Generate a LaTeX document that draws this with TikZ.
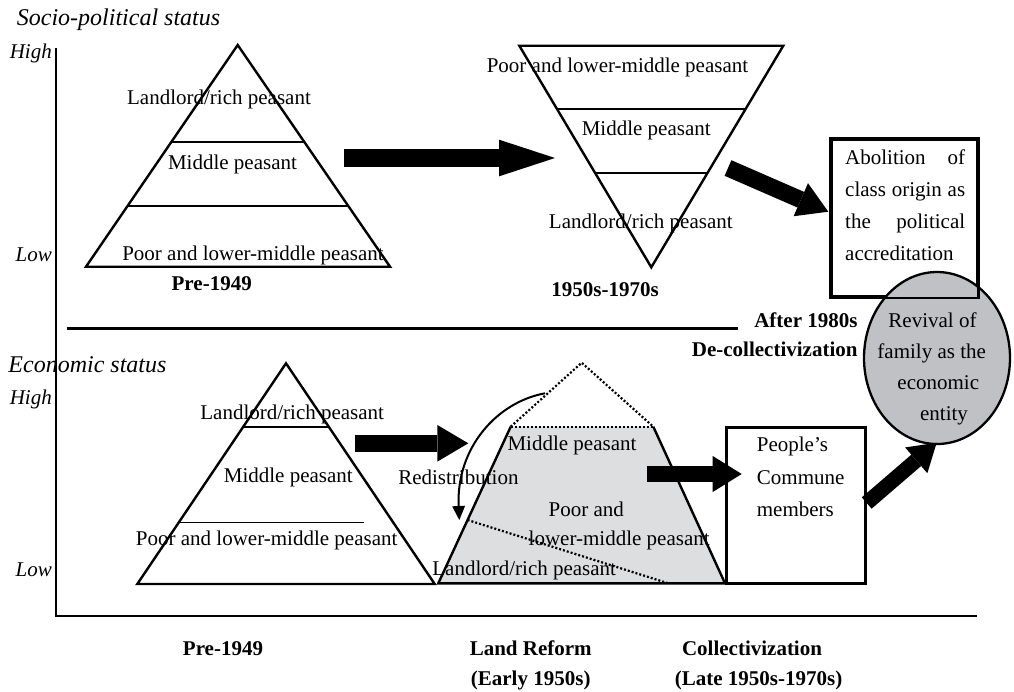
\documentclass[tikz,border=0pt]{standalone}
\usepackage{fontspec}
\setmainfont{Liberation Serif}
\usetikzlibrary{arrows.meta,shapes.geometric}
\definecolor{trapgray}{RGB}{221,222,224}
\definecolor{ellgray}{RGB}{192,193,197}
\newcommand\fsz{\fontsize{21}{32}\selectfont}
\newcommand\fbig{\fontsize{24}{30}\selectfont}
\tikzset{
  lbl/.style={inner sep=0pt, font=\fsz, anchor=base},
  bold/.style={lbl, font=\fsz\bfseries},
  ital/.style={lbl, font=\fsz\itshape},
  outl/.style={line width=2.4pt, line join=miter},
  inl/.style={line width=2pt},
  dotl/.style={line width=2.2pt, dash pattern=on 2pt off 2pt},
  blockarrow/.style n args={3}{line width=#1, -{Triangle[length=#2, width=#3, line width=0pt]}},
}
\begin{document}
\begin{tikzpicture}[x=1pt,y=-1pt]
\useasboundingbox (0,0) rectangle (1014,691);

% ---------- axes and separator
\coordinate (axtop) at (56,48);
\coordinate (axorig) at (56,616);
\coordinate (axend) at (977,616);
\draw[line width=2.8pt, line join=miter] (axtop) -- (axorig) -- (axend);
\coordinate (sepL) at (66.7,328);
\coordinate (sepR) at (738.3,328);
\draw[line width=3pt] (sepL) -- (sepR);

% ---------- labels on axis
\node[ital, font=\fbig\itshape, anchor=base west] (tSP) at (16.7,25) {Socio-political status};
\node[ital, anchor=base east] (tHigh1) at (52,58.5) {High};
\node[ital, anchor=base east] (tLow1) at (52,261.5) {Low};
\node[ital, font=\fbig\itshape, anchor=base west] (tEC) at (8.3,372) {Economic status};
\node[ital, anchor=base east] (tHigh2) at (52,404) {High};
\node[ital, anchor=base east] (tLow2) at (52,576) {Low};

% ---------- top pyramid (pre-1949)
\draw[outl] (237.7,45) -- (86,266.7) -- (390,266.7) -- cycle;
\draw[inl] (171.4,141.7) -- (304,141.7);
\draw[inl] (127.7,206) -- (347.7,206);
\node[lbl] (pA1) at (219,104.4) {Landlord/rich peasant};
\node[lbl] (pA2) at (232.5,169.2) {Middle peasant};
\node[lbl] (pA3) at (253,260.7) {Poor and lower-middle peasant};
\node[bold] (yA) at (211.7,290) {Pre-1949};

% ---------- inverted pyramid (1950s-1970s)
\draw[outl] (519.3,45.7) -- (783.3,45.7) -- (651.3,267.3) -- cycle;
\draw[inl] (557.3,109) -- (745.3,109);
\draw[inl] (595.4,172.7) -- (707.2,172.7);
\node[lbl] (pB1) at (617.5,72) {Poor and lower-middle peasant};
\node[lbl] (pB2) at (646.2,135.5) {Middle peasant};
\node[lbl] (pB3) at (640.8,228.8) {Landlord/rich peasant};
\node[bold] (yB) at (605,296) {1950s-1970s};

% ---------- abolition box
\node[draw, line width=2.5pt, minimum width=145.6pt, minimum height=157.4pt, inner sep=0pt] (abol) at (904.5,218) {};
\node[lbl, anchor=base west] (ab1) at (845,164.5) {\hbox to 120pt{Abolition\hfill of}};
\node[lbl, anchor=base west] (ab2) at (845,196.5) {\hbox to 120pt{class\hfill origin\hfill as}};
\node[lbl, anchor=base west] (ab3) at (845,228.5) {\hbox to 120pt{the\hfill political}};
\node[lbl, anchor=base west] (ab4) at (845,260.5) {accreditation};

% ---------- after 1980s
\node[bold, anchor=base east] (after) at (857.7,327) {After 1980s};
\node[bold, anchor=base east] (decol) at (857.7,356.5) {De-collectivization};

% ---------- ellipse
\node[ellipse, draw, fill=ellgray, line width=2.3pt, minimum width=146pt, minimum height=172pt, inner sep=0pt] (fam) at (937,358) {};
\draw[line width=2.5pt] (abol.north west) rectangle (abol.south east);
\node[lbl] (fm1) at (932.5,327.5) {Revival of};
\node[lbl] (fm2) at (931.7,358.5) {family as the};
\node[lbl] (fm3) at (938.3,389.5) {economic};
\node[lbl] (fm4) at (944,420.5) {entity};

% ---------- bottom pyramid (pre-1949)
\draw[outl] (286,363.3) -- (137.3,584) -- (434.7,584) -- cycle;
\draw[inl] (243.3,426.7) -- (328.7,426.7);
\draw[line width=1.5pt] (179.8,522.3) -- (364.3,522.3);
\node[lbl] (pD1) at (292.2,419.5) {Landlord/rich peasant};
\node[lbl] (pD2) at (288.3,482) {Middle peasant};
\node[lbl] (pD3) at (266.7,545.5) {Poor and lower-middle peasant};

% ---------- land reform trapezoid
\fill[trapgray] (438.3,583.3) -- (510.7,426.7) -- (653.3,426.7) -- (725,583.3) -- cycle;
\draw[outl] (510.7,426.7) -- (438.3,583.3) -- (725,583.3) -- (653.3,426.7);
\draw[dotl] (510.7,426.7) -- (581.7,362.7) -- (653.3,426.7);
\draw[dotl] (510.7,426.7) -- (653.3,426.7);
\draw[dotl] (467.6,520) -- (668.3,583.3);
\node[lbl] (pE1) at (572,450.5) {Middle peasant};
\node[lbl] (redis) at (458.4,484) {Redistribution};
\node[lbl] (pE2) at (586.2,516) {Poor and};
\node[lbl] (pE3) at (619.2,545.5) {lower-middle peasant};
\node[lbl] (pE4) at (524.2,575.7) {Landlord/rich peasant};
\coordinate (cs) at (545,393.3);
\coordinate (ce) at (459.3,520);
\draw[line width=2pt, -{Triangle[length=14pt, width=13pt, line width=0pt]}] (cs) .. controls (497,402) and (456,448) .. (ce);

% ---------- commune box
\node[draw, line width=2.5pt, minimum width=139pt, minimum height=156pt, inner sep=0pt] (comm) at (796.2,505.3) {};
\node[lbl, anchor=base west] (cm1) at (756.7,451) {People’s};
\node[lbl, anchor=base west] (cm2) at (756.7,484) {Commune};
\node[lbl, anchor=base west] (cm3) at (756.7,516.5) {members};

% ---------- block arrows
\coordinate (a1s) at (344,158);   \coordinate (a1e) at (555,158);
\draw[blockarrow={17.4pt}{56pt}{36.7pt}] (a1s) -- (a1e);
\coordinate (a2s) at (728,168);   \coordinate (a2e) at (828.3,211.7);
\draw[blockarrow={17pt}{30pt}{36pt}] (a2s) -- (a2e);
\coordinate (a3s) at (355,443.3); \coordinate (a3e) at (468.3,443.3);
\draw[blockarrow={16.7pt}{31pt}{36.7pt}] (a3s) -- (a3e);
\coordinate (a4s) at (646.7,474); \coordinate (a4e) at (741.7,474);
\draw[blockarrow={16.7pt}{29pt}{36pt}] (a4s) -- (a4e);
\coordinate (a5s) at (866.7,503); \coordinate (a5e) at (936.7,442.7);
\draw[blockarrow={15pt}{27pt}{34pt}] (a5s) -- (a5e);

% ---------- period labels
\node[bold] (yP1) at (223,655) {Pre-1949};
\node[bold] (yP2) at (530.7,655) {Land Reform};
\node[bold] (yP2b) at (530.7,685) {(Early 1950s)};
\node[bold] (yP3) at (752,655) {Collectivization};
\node[bold] (yP3b) at (758.6,685) {(Late 1950s-1970s)};
\end{tikzpicture}
\end{document}
